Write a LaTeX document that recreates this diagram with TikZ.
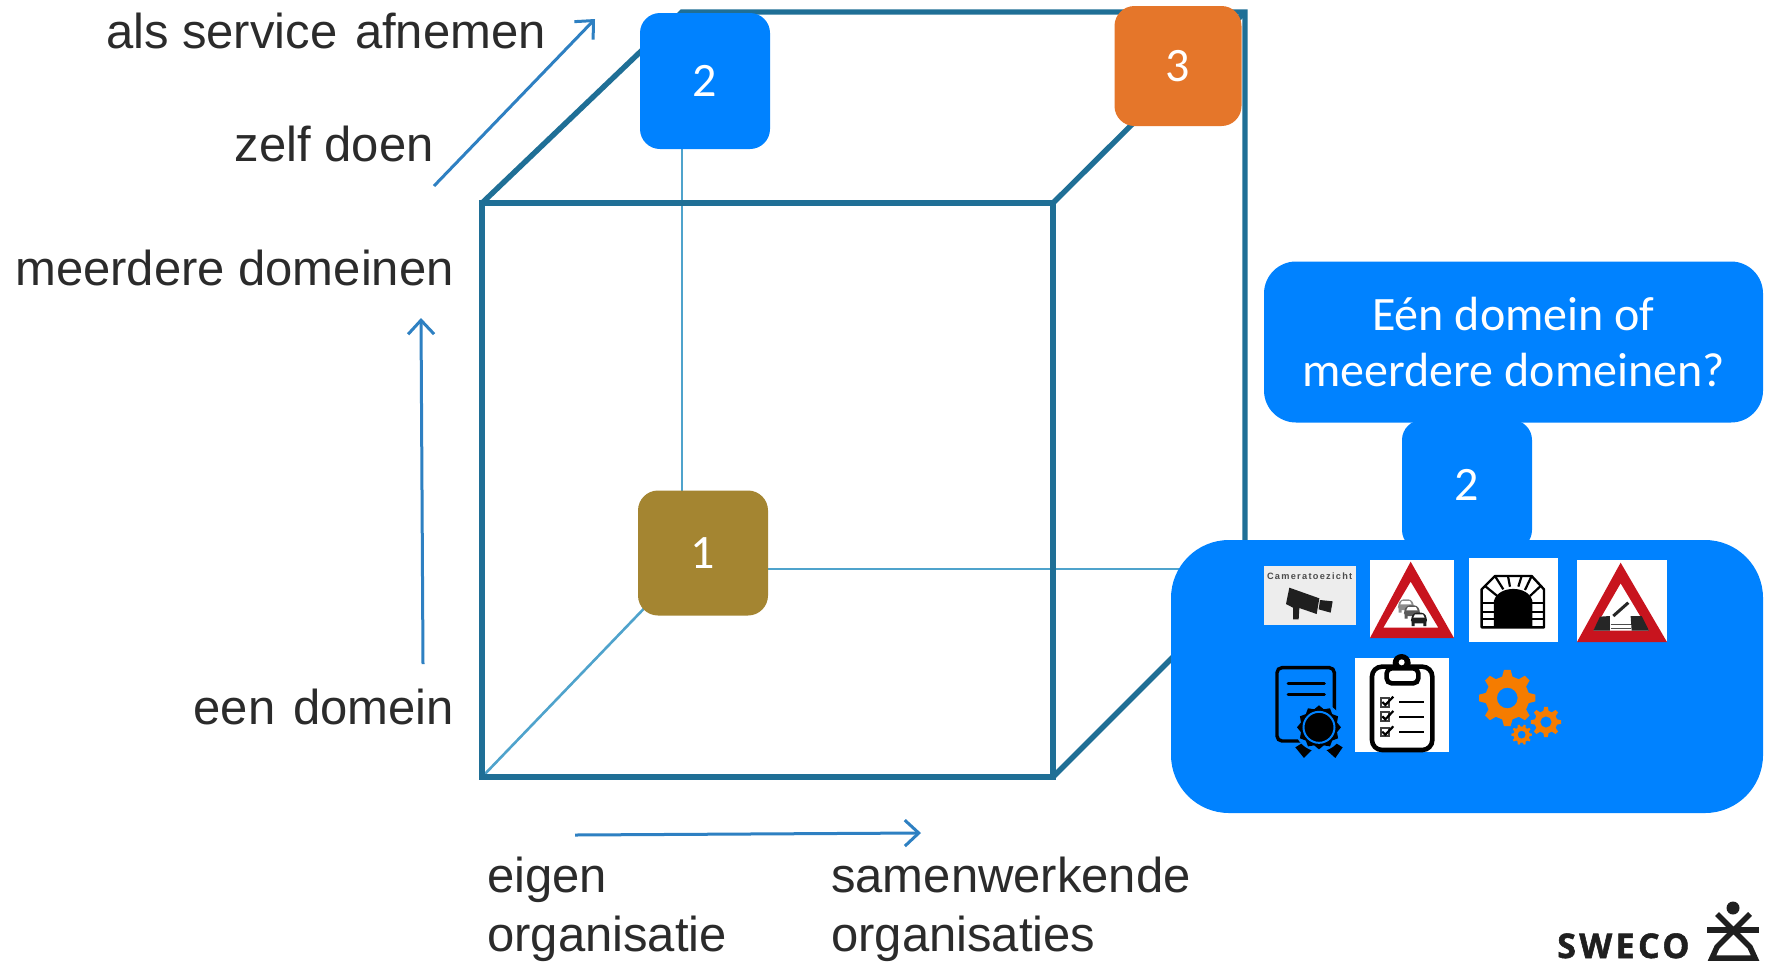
\documentclass[tikz,border=0pt]{standalone}
\usepackage{fontspec}
\setmainfont{Liberation Sans}
\newfontfamily\calibrifont{Carlito}
\newfontfamily\camfont[LetterSpace=14]{Liberation Sans Bold}
\newfontfamily\swecofont[LetterSpace=10,FakeBold=1.5]{Open Sans Bold}
\usetikzlibrary{arrows.meta}
\definecolor{cubeblue}{HTML}{1F6F96}
\definecolor{thinblue}{HTML}{4FA3CC}
\definecolor{arrowblue}{HTML}{2E80C2}
\definecolor{boxblue}{HTML}{0082FF}
\definecolor{boxorange}{HTML}{E5762A}
\definecolor{boxgold}{HTML}{A48531}
\definecolor{signred}{HTML}{C8141E}
\definecolor{gearorange}{HTML}{F57C00}
\definecolor{labelgray}{HTML}{2B2B2B}
\newcommand{\mygear}[6]{% x,y,R,r,hole,teeth
  \begin{scope}[shift={(#1,#2)}]
  \pgfmathsetmacro{\gstep}{360/#6}
  \pgfmathsetmacro{\gq}{\gstep/4}
  \fill[gearorange,even odd rule] (-\gq*1.2:#4)
    \foreach \gi in {1,...,#6} {
      -- ({(\gi-1)*\gstep-\gq*.6}:#3) -- ({(\gi-1)*\gstep+\gq*.6}:#3)
      -- ({(\gi-1)*\gstep+\gq*1.2}:#4) -- ({\gi*\gstep-\gq*1.2}:#4)
    } -- cycle (0,0) circle[radius=#5];
  \end{scope}}
\newcommand{\mycar}[3]{% x,y,grey
  \fill[black!#3,rounded corners=3pt] (#1-24,#2-2) -- (#1-16,#2-18) -- (#1+16,#2-18) -- (#1+24,#2-2) -- (#1+24,#2+14) -- (#1-24,#2+14) -- cycle;
  \fill[black!#3] (#1-22,#2+10) rectangle (#1-13,#2+22) (#1+13,#2+10) rectangle (#1+22,#2+22);
  \fill[white] (#1-12,#2-13) -- (#1+12,#2-13) -- (#1+17,#2-3) -- (#1-17,#2-3) -- cycle;}
\tikzset{
  cubeline/.style={draw=cubeblue,line width=5.4pt,line join=miter},
  thinline/.style={draw=thinblue,line width=2.6pt},
  axisarrow/.style={draw=arrowblue,line width=3pt,-{Straight Barb[length=14pt,width=26pt,line width=3pt]}},
  axislabel/.style={inner sep=0pt,text=labelgray,font=\fontsize{49}{59}\selectfont},
  roundbox/.style={inner sep=0pt,rounded corners=#1,text=white,font=\calibrifont\fontsize{48}{56}\selectfont,align=center},
  roundbox/.default=20pt
}
\begin{document}
\begin{tikzpicture}[x=1pt,y=-1pt]
\useasboundingbox (0,0) rectangle (1766,962);
\fill[white] (0,0) rectangle (1766,962);
% cube corners
\coordinate (ftl) at (482,203);
\coordinate (ftr) at (1053,203);
\coordinate (fbl) at (482,777);
\coordinate (fbr) at (1053,777);
\coordinate (btl) at (682,12);
\coordinate (btr) at (1245,12);
\coordinate (bbl) at (682,569);
\coordinate (bbr) at (1245,569);
% hidden edges
\draw[thinline] (btl) -- (bbl) -- (bbr);
\draw[thinline] (fbl) -- (bbl);
% visible edges
\draw[cubeline] (ftl) -- (btl) -- (btr) -- (bbr);
\draw[cubeline] (ftr) -- (btr);
\draw[cubeline] (fbr) -- (1245,585);
\draw[cubeline] (ftl) rectangle (fbr);
% axes
\coordinate (a1s) at (434,186); \coordinate (a1e) at (595,19);
\coordinate (a2s) at (423,664); \coordinate (a2e) at (421,318);
\coordinate (a3s) at (575,835); \coordinate (a3e) at (921,833);
\draw[axisarrow] (a1s) -- (a1e);
\draw[axisarrow] (a2s) -- (a2e);
\draw[axisarrow] (a3s) -- (a3e);
% labels
\node[axislabel,anchor=east] (lservice) at (546,31) {als service\hspace{4pt} afnemen};
\node[axislabel,anchor=east] (lzelf) at (434,144) {zelf doen};
\node[axislabel,anchor=east] (lmeer) at (454,268) {meerdere domeinen};
\node[axislabel,anchor=east] (leen) at (454,707) {een\hspace{4pt} domein};
\node[axislabel,anchor=north west,align=left] (leigen) at (487,857) {eigen\\organisatie};
\node[axislabel,anchor=north west,align=left] (lsamen) at (831,857) {samenwerkende\\organisaties};
% boxes
\node[roundbox,fill=boxblue,minimum width=130pt,minimum height=136pt] (ntwo) at (705,81) {2};
\node[roundbox,fill=boxorange,minimum width=127pt,minimum height=120pt] (nthree) at (1178,66) {3};
\node[roundbox,fill=boxgold,minimum width=130pt,minimum height=125pt] (none) at (703,553) {1};
\node[roundbox=32pt,fill=boxblue,minimum width=499pt,minimum height=161pt] (ask) at (1513.5,342) {Eén domein of\\meerdere domeinen?};
\node[roundbox,fill=boxblue,minimum width=130pt,minimum height=130pt] (ntwob) at (1467,485) {2};
\node[roundbox=58pt,fill=boxblue,minimum width=592pt,minimum height=273pt] (panel) at (1467,676.5) {};
% icons, coordinates of a 3x crop
\begin{scope}[shift={(1170,540)},x=0.3333pt,y=-0.3333pt]
  % camera
  \fill[black!7] (282,78) rectangle (558,255);
  \node[inner sep=0pt,text=black!70,font=\camfont\fontsize{9.2}{10}\selectfont] (camtext) at (419,109) {Cameratoezicht};
  \fill[black!88] (358,143) -- (448,175) -- (440,222) -- (388,204) -- (386,238) -- (369,238) -- (369,203) -- (348,192) -- cycle;
  \fill[black!88] (450,180) -- (488,184) -- (482,218) -- (446,208) -- cycle;
  % queue sign
  \fill[white] (600,60) rectangle (852,294);
  \fill[signred,even odd rule] (722,65) -- (852,294) -- (600,294) -- cycle (722,125) -- (640,263) -- (805,263) -- cycle;
  \mycar{708}{196}{45}
  \mycar{726}{214}{65}
  \mycar{747}{236}{88}
  % tunnel
  \fill[white] (897,54) rectangle (1164,306);
  \draw[black,line width=2.4pt,line join=round] (935,262) -- (935,148) -- (975,108) -- (1085,108) -- (1122,148) -- (1122,262) -- cycle;
  \fill[black] (972,262) -- (972,182) .. controls (985,135) and (1075,135) .. (1087,182) -- (1087,262) -- cycle;
  \foreach \ta/\tb/\tc/\td in {935/190/972/190, 935/215/972/215, 935/238/972/238, 1087/190/1122/190, 1087/215/1122/215, 1087/238/1122/238, 945/138/982/168, 975/108/1000/148, 1014/108/1020/140, 1055/108/1045/140, 1085/108/1065/150, 1112/138/1080/168}
    \draw[black,line width=2.2pt] (\ta,\tb) -- (\tc,\td);
  % bridge sign
  \fill[white] (1221,60) rectangle (1491,306);
  \fill[signred,even odd rule] (1352,68) -- (1491,306) -- (1221,306) -- cycle (1352,130) -- (1270,272) -- (1437,272) -- cycle;
  \fill[black!85] (1270,272) -- (1290,230) -- (1320,228) -- (1320,272) -- cycle;
  \fill[black!85] (1382,228) -- (1415,228) -- (1437,272) -- (1385,272) -- cycle;
  \draw[black!85,line width=3pt] (1330,228) -- (1375,188);
  \draw[black!70,line width=.8pt] (1322,254) -- (1382,254) (1322,264) -- (1382,264);
  % certificate
  \draw[black,line width=3.4pt,rounded corners=5pt] (321,383) rectangle (493,603);
  \draw[black,line width=3pt,line cap=round] (354,431) -- (463,431) (354,465) -- (463,465);
  \fill[boxblue] (447,562) circle[radius=24pt];
  \fill[black] (376,622) -- (412,600) -- (436,620) -- (402,654) -- cycle;
  \fill[black] (518,622) -- (482,600) -- (458,620) -- (496,654) -- cycle;
  \begin{scope}[shift={(447,562)}]
    \fill[boxblue] (0,0) circle[radius=24pt];
    \fill[black] (-90:66)
      \foreach \sa in {1,...,12} { -- ({-90+(\sa-.5)*30}:56) -- ({-90+\sa*30}:66) } -- cycle;
    \draw[boxblue,line width=2pt] (0,0) circle[radius=15.5pt];
    \fill[black] (0,0) circle[radius=12.7pt];
  \end{scope}
  % clipboard
  \fill[white] (555,354) rectangle (837,636);
  \draw[black,line width=4.6pt,rounded corners=10pt] (606,380) rectangle (787,630);
  \fill[black] (695,369) circle[radius=9pt];
  \fill[white] (695,367) circle[radius=3pt];
  \draw[black,fill=white,line width=4.6pt,rounded corners=5pt] (650,385) rectangle (745,430);
  \foreach \cy in {487,530,576} {
    \draw[black!75,line width=1.8pt] (632,\cy-13) rectangle (657,\cy+13);
    \draw[black,line width=2.2pt] (637,\cy-1) -- (646,\cy+8) -- (670,\cy-17);
    \draw[black,line width=2.2pt] (688,\cy) -- (762,\cy);
  }
\end{scope}
% gears
\begin{scope}[shift={(1170,540)},x=0.3333pt,y=-0.3333pt]
  \mygear{1012}{474}{85}{66}{31}{8}
  \mygear{1128}{546}{46}{34}{17}{8}
  \mygear{1055}{584}{31}{24}{12}{10}
\end{scope}
% logo
\begin{scope}
  \clip (0,0) rectangle (1766,962);
  \node[inner sep=0pt,anchor=base west,text=black!88,font=\swecofont\fontsize{34}{40}\selectfont] (sweco) at (1557,958) {SWECO};
  \fill[black!88] (1733,908) circle[radius=6.5pt];
  \draw[black!88,line width=5.5pt] (1707,930) -- (1759,930);
  \draw[black!88,line width=5.5pt,line join=miter] (1717,914) -- (1750,947) -- (1755,958) -- (1712,958) -- (1717,947) -- (1750,914);
\end{scope}
\end{tikzpicture}
\end{document}
